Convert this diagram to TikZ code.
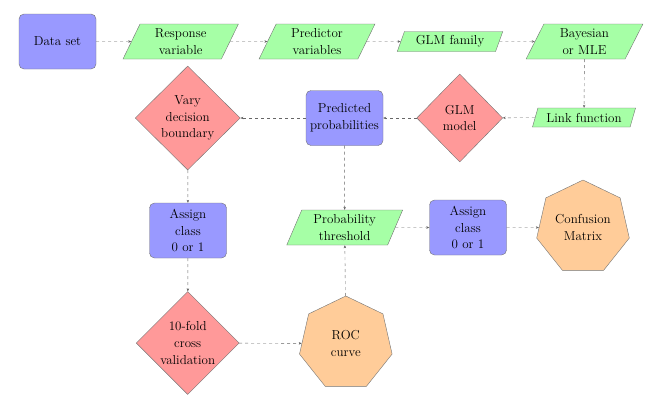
\documentclass[tikz,border=0pt]{standalone}
\usetikzlibrary{shapes.geometric,arrows.meta}
\tikzset{
  base/.style={draw=black!55, align=center, font=\fontsize{13}{16.7}\selectfont, inner sep=1pt},
  procbox/.style={base, rectangle, rounded corners=5pt, fill=blue!40, minimum width=77pt, minimum height=55pt},
  iobox/.style={base, trapezium, trapezium left angle=68, trapezium right angle=112, trapezium stretches=true, fill=green!35, minimum width=116pt, minimum height=35pt},
  decbox/.style={base, diamond, fill=red!40, inner sep=0pt},
  hepbox/.style={base, regular polygon, regular polygon sides=7, fill=orange!40, minimum size=95pt},
  conn/.style={draw=black!60, dashed, -{Stealth[length=3pt,width=2.5pt]}}
}
\begin{document}
\begin{tikzpicture}[x=1pt,y=-1pt]
\useasboundingbox (0,0) rectangle (650,400);
\node[procbox] (data) at (57.5,41.5) {Data set};
\node[iobox] (resp) at (180.7,41.5) {Response\\variable};
\node[iobox] (pred) at (317,41.5) {Predictor\\variables};
\node[iobox, minimum width=106pt, minimum height=20pt] (fam) at (450,41.5) {GLM family};
\node[iobox, minimum width=117pt] (bayes) at (584.5,41.5) {Bayesian\\or MLE};
\node[iobox, minimum width=104pt, minimum height=19pt] (link) at (584,117.5) {Link function};
\node[decbox, minimum width=86pt, minimum height=88pt] (glm) at (459.7,118) {GLM\\model};
\node[procbox] (prob) at (344.5,118) {Predicted\\probabilities};
\node[decbox, minimum width=105pt, minimum height=104pt] (vary) at (187.7,118) {Vary\\decision\\boundary};
\node[procbox] (asl) at (188,230.5) {Assign\\class\\0 or 1};
\node[decbox, minimum width=103pt, minimum height=103pt] (fold) at (187.7,343) {10-fold\\cross\\validation};
\node[hepbox] (roc) at (345.8,343.5) {ROC\\curve};
\node[iobox] (thr) at (344.7,227.5) {Probability\\threshold};
\node[procbox] (asr) at (468,227.5) {Assign\\class\\0 or 1};
\node[hepbox] (conf) at (583,227.5) {Confusion\\Matrix};
\draw[conn] (data) -- (resp);
\draw[conn] (resp) -- (pred);
\draw[conn] (pred) -- (fam);
\draw[conn] (fam) -- (bayes);
\draw[conn] (bayes) -- (link);
\draw[conn] (link) -- (glm);
\draw[conn] (glm) -- (prob);
\draw[conn] (prob) -- (vary);
\draw[conn] (vary) -- (asl);
\draw[conn] (asl) -- (fold);
\draw[conn] (fold) -- (roc);
\draw[conn] (roc) -- (thr);
\draw[conn] (prob) -- (thr);
\draw[conn] (thr) -- (asr);
\draw[conn] (asr) -- (conf);
\end{tikzpicture}
\end{document}
